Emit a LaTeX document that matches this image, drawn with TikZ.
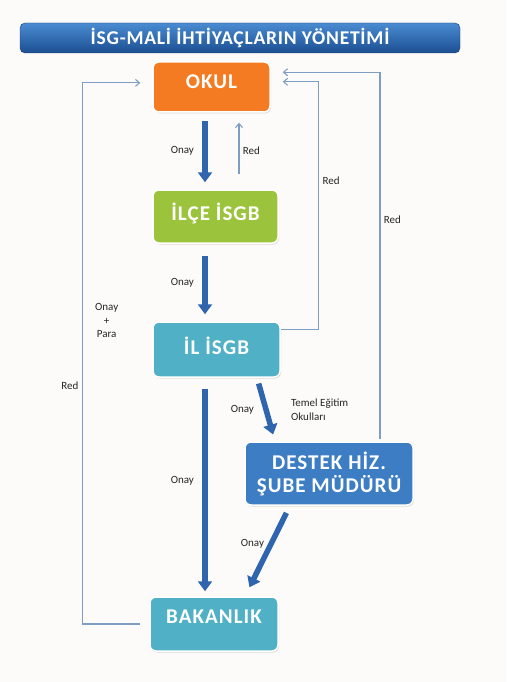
\documentclass[tikz,border=0pt]{standalone}
\usepackage{fontspec}
\setmainfont{Carlito}
\usetikzlibrary{arrows.meta, positioning, shadows}
\definecolor{isgBg}{HTML}{FDFBF9}
\definecolor{isgTitleTop}{HTML}{4A8BD1}
\definecolor{isgTitleBot}{HTML}{1B4F91}
\definecolor{isgOrange}{HTML}{F57B22}
\definecolor{isgGreen}{HTML}{9BC43C}
\definecolor{isgTeal}{HTML}{4FB0C6}
\definecolor{isgBlue}{HTML}{3C7DC4}
\definecolor{isgArrow}{HTML}{2F64AE}
\definecolor{isgLine}{HTML}{7C9EC4}

\begin{document}
\begin{tikzpicture}[
  x=1pt, y=-1pt,
  titlebar/.style={rounded corners=5pt, minimum width=440pt, minimum height=30pt, top color=isgTitleTop, bottom color=isgTitleBot, draw=isgTitleBot!80!black, text=white, font=\bfseries\fontsize{19.5}{24}\selectfont\addfontfeature{LetterSpace=4}},
  box/.style={rounded corners=6pt, draw=white, line width=1.5pt, text=white, align=center, font=\bfseries\fontsize{21}{23}\selectfont\addfontfeature{LetterSpace=5}, drop shadow={opacity=0.25, shadow xshift=1pt, shadow yshift=-1.5pt}},
  raised/.style={text depth=#1},
  onayarrow/.style={draw=isgArrow, line width=5.5pt, -{Triangle[length=10pt, width=14pt]}},
  redline/.style={draw=isgLine, line width=1.1pt, -{Straight Barb[length=4pt, width=7pt]}},
  lbl/.style={font=\fontsize{11}{13.5}\selectfont, text=black!85, align=center}
]
\fill[isgBg] (0,0) rectangle (506,682);

% boxes
\node[titlebar] (title) at (240,38) {İSG-MALİ İHTİYAÇLARIN YÖNETİMİ};
\node[box, raised=10pt, fill=isgOrange, minimum width=117pt, minimum height=50pt] (okul) at (211.5,87) {OKUL};
\node[box, raised=9pt, fill=isgGreen, minimum width=125pt, minimum height=53pt] (ilce) at (215.5,216.5) {İLÇE İSGB};
\node[box, raised=7pt, fill=isgTeal, minimum width=127pt, minimum height=55pt] (il) at (216.5,349.5) {İL İSGB};
\node[box, fill=isgBlue, minimum width=168pt, minimum height=63pt] (destek) at (329,473.5) {DESTEK HİZ.\\ŞUBE MÜDÜRÜ};
\node[box, raised=14pt, fill=isgTeal, minimum width=128pt, minimum height=54pt] (bakanlik) at (214,624) {BAKANLIK};

% approvals
\draw[onayarrow, shorten <=8pt, shorten >=7pt] ([xshift=-6.5pt]okul.south) -- node[lbl, left=5pt] {Onay} ([xshift=-10.5pt]ilce.north);
\draw[onayarrow, shorten <=12pt, shorten >=7pt] ([xshift=-10.5pt]ilce.south) -- node[lbl, left=5pt] {Onay} ([xshift=-11.5pt]il.north);
\draw[onayarrow, shorten <=11pt, shorten >=5pt] ([xshift=-11.5pt]il.south) -- node[lbl, left=5pt, pos=0.47] {Onay} ([xshift=-9pt]bakanlik.north);
\draw[onayarrow, shorten <=6pt, shorten >=7pt] ([xshift=40.5pt]il.south) -- node[lbl, left=6pt] {Onay} node[lbl, right=19pt, align=left] {Temel Eğitim\\Okulları} ([xshift=-54pt]destek.north);
\draw[onayarrow, shorten <=8pt, shorten >=10pt] ([xshift=-39pt]destek.south) -- node[lbl, left=1pt, pos=0.42] {Onay} ([xshift=31pt]bakanlik.north);

% rejections
\draw[redline, shorten <=15pt, shorten >=10pt] ([xshift=23.5pt]ilce.north) -- node[lbl, right] {Red} ([xshift=27.5pt]okul.south);
\draw[redline, shorten >=12pt] (il.17) -| node[lbl, right, pos=0.8] {Red} ([xshift=48pt]okul.5) -- (okul.5);
\draw[redline, shorten <=2pt, shorten >=12pt] ([xshift=51pt]destek.north) |- node[lbl, right, pos=0.3] {Red} (okul.14);
\draw[redline, shorten <=9pt, shorten >=12pt] (bakanlik.west) -| node[lbl, left, pos=0.72] {Red} node[lbl, right=9pt, pos=0.78] {Onay\\+\\Para} ([xshift=-70pt]okul.176) -- (okul.176);
\end{tikzpicture}
\end{document}
